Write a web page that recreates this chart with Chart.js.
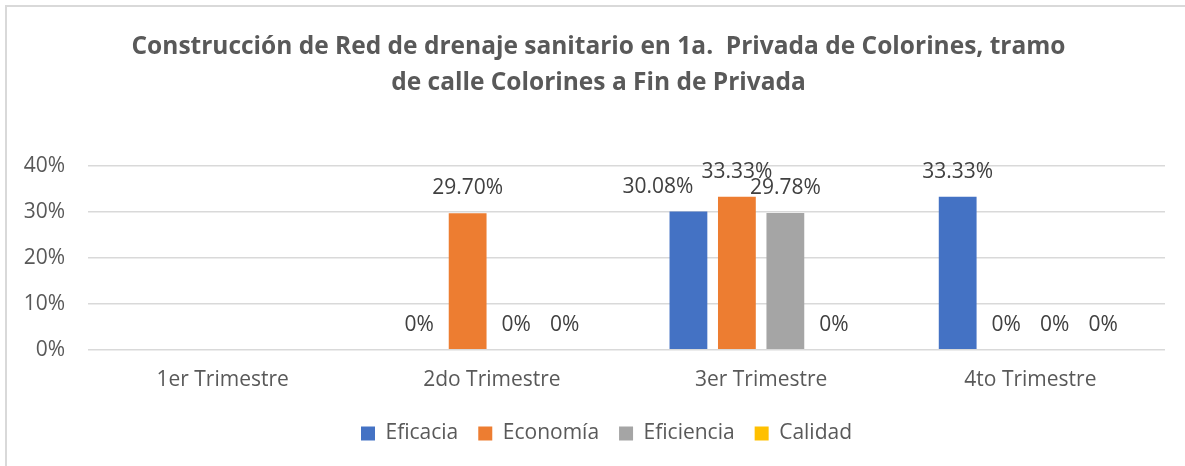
<!DOCTYPE html>
<html lang="es">
<head>
<meta charset="utf-8">
<title>Construcción de Red de drenaje sanitario</title>
<script src="https://cdn.jsdelivr.net/npm/chart.js@4/dist/chart.umd.min.js"></script>
<style>
    html, body { margin: 0; padding: 0; background: #fff; overflow: hidden; }
    #wrap { position: relative; width: 1185px; height: 466px; }
    #frame {
        position: absolute; left: 5px; top: 5px; width: 1300px; height: 600px;
        border: 2px solid #d9d9d9; box-sizing: border-box;
    }
    #chart { position: absolute; left: 0; top: 0; }
</style>
</head>
<body>
<div id="wrap">
    <div id="frame"></div>
    <canvas id="chart" width="1185" height="466"></canvas>
</div>
<script>
// Chart data (percent values, null = no label/bar)
const titleLines = ['Construcción de Red de drenaje sanitario en 1a.  Privada de Colorines, tramo',
                    'de calle Colorines a Fin de Privada'];
const trimestres = ['1er Trimestre', '2do Trimestre', '3er Trimestre', '4to Trimestre'];
const seriesNames = ['Eficacia', 'Economía', 'Eficiencia', 'Calidad'];
const eficacia   = [null, 0, 30.08, 33.33];
const economia   = [null, 29.70, 33.33, 0];
const eficiencia = [null, 0, 29.78, 0];
const calidad    = [null, 0, 0, 0];
const yTicks = [0, 10, 20, 30, 40];

const seriesColors = ['#4472C4', '#ED7D31', '#A5A5A5', '#FFC000'];
const textColor = '#595959';
const fontFamily = '"Open Sans", "Noto Sans", sans-serif';
const fontSize = 21;

/**
 * Formats a value the way the source sheet does: 0 -> "0%", else two decimals.
 */
function formatPct(v) {
    return v === 0 ? '0%' : v.toFixed(2) + '%';
}

/**
 * Draws value labels above each bar. Labels that collide with the next one
 * in the same group are pushed left, like the spreadsheet does.
 */
const barLabelsPlugin = {
    id: 'barLabels',
    afterDatasetsDraw(chart) {
        const ctx = chart.ctx;
        ctx.save();
        ctx.font = fontSize + 'px ' + fontFamily;
        ctx.fillStyle = '#404040';
        ctx.textAlign = 'center';
        ctx.textBaseline = 'middle';

        const groups = trimestres.map(() => []);
        chart.data.datasets.forEach((ds, di) => {
            const meta = chart.getDatasetMeta(di);
            meta.data.forEach((bar, i) => {
                const v = ds.data[i];
                if (v === null || v === undefined) return;
                const text = formatPct(v);
                const w = ctx.measureText(text).width;
                groups[i].push({ text, x: bar.x, y: bar.y - 25, w });
            });
        });

        groups.forEach(g => {
            for (let k = g.length - 2; k >= 0; k--) {
                const a = g[k], b = g[k + 1];
                const overlapX = (a.x + a.w / 2) - (b.x - b.w / 2);
                if (overlapX > 0 && Math.abs(a.y - b.y) < 15.5) {
                    a.x -= overlapX + 8;
                }
            }
            g.forEach(l => ctx.fillText(l.text, l.x, l.y));
        });
        ctx.restore();
    }
};

/**
 * Title and legend sit a bit right of the plot centre in the original.
 */
const nudgePlugin = {
    id: 'nudge',
    afterLayout(chart) {
        if (chart.titleBlock) {
            chart.titleBlock.left += 16;
            chart.titleBlock.right += 16;
        }
        if (chart.legend) {
            chart.legend.left += 24;
            chart.legend.right += 24;
        }
    }
};

function renderChart() {
    const ctx = document.getElementById('chart');
    const values = [eficacia, economia, eficiencia, calidad];

    new Chart(ctx, {
        type: 'bar',
        data: {
            labels: trimestres,
            datasets: seriesNames.map((name, i) => ({
                label: name,
                data: values[i],
                backgroundColor: seriesColors[i],
                borderWidth: 0,
                categoryPercentage: 0.72,
                barPercentage: 0.78
            }))
        },
        options: {
            responsive: false,
            animation: false,
            layout: { padding: { left: 0, right: 20, top: 0, bottom: 12 } },
            plugins: {
                title: {
                    display: true,
                    text: titleLines,
                    color: textColor,
                    font: { family: fontFamily, size: 24.5, weight: 'bold', lineHeight: 1.47 },
                    padding: { top: 29, bottom: 65 }
                },
                legend: {
                    position: 'bottom',
                    labels: {
                        color: textColor,
                        font: { family: fontFamily, size: fontSize },
                        boxWidth: 14,
                        boxHeight: 14,
                        padding: 20
                    }
                },
                tooltip: { enabled: false }
            },
            scales: {
                x: {
                    grid: { display: false },
                    border: { display: false },
                    ticks: { color: textColor, font: { family: fontFamily, size: fontSize }, padding: 10 }
                },
                y: {
                    min: 0,
                    max: 40,
                    afterBuildTicks(scale) { scale.ticks = yTicks.map(v => ({ value: v })); },
                    grid: { color: '#d9d9d9', lineWidth: 1.5, drawTicks: false },
                    border: { display: false },
                    ticks: {
                        color: textColor,
                        font: { family: fontFamily, size: fontSize },
                        padding: 23,
                        callback: v => v + '%'
                    },
                    afterFit(scale) { scale.width = 88; }
                }
            }
        },
        plugins: [barLabelsPlugin, nudgePlugin]
    });
}

document.addEventListener('DOMContentLoaded', renderChart);
</script>
</body>
</html>
